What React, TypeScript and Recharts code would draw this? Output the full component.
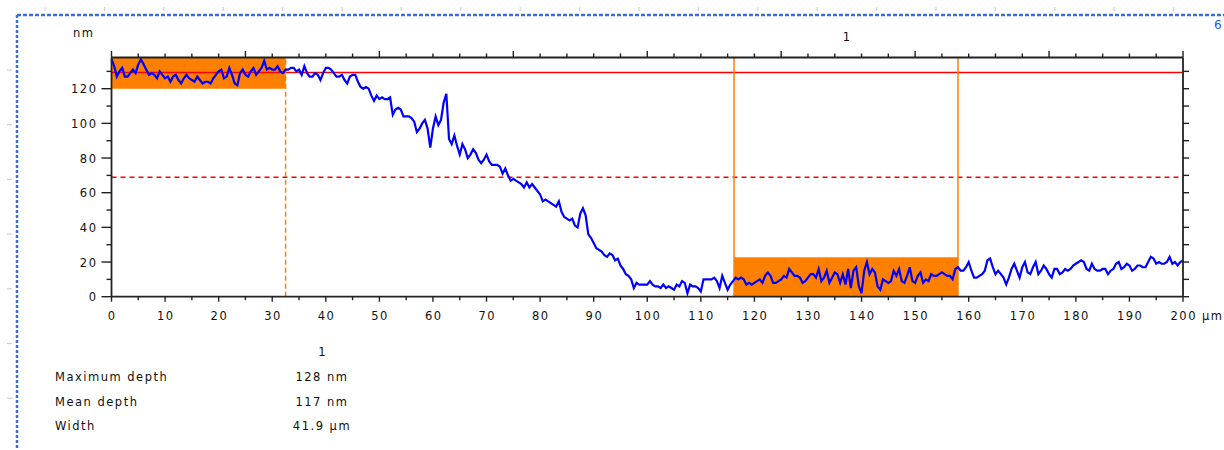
import React from "react";
import {
  LineChart,
  Line,
  XAxis,
  YAxis,
  ReferenceArea,
  ReferenceLine,
} from "recharts";

// profile sampled every 0.5 µm from 0 to 200 µm (depth in nm)
const STEP_UM = 0.5;
const depthNm: number[] = [
  137, 133, 127, 130, 132, 127, 127, 129, 131, 129,
  134, 137, 134, 131, 128, 129, 128, 126, 130, 128,
  126, 127, 124, 127, 128, 125, 123, 126, 128, 126,
  125, 124, 127, 125, 123, 124, 124, 123, 126, 128,
  130, 131, 126, 127, 132, 128, 123, 122, 129, 131,
  128, 127, 130, 132, 128, 130, 132, 136, 131, 132,
  131, 131, 133, 130, 129, 131, 131, 132, 132, 130,
  131, 128, 133, 129, 127, 127, 129, 128, 125, 129,
  132, 132, 131, 129, 127, 127, 128, 125, 123, 127,
  128, 128, 124, 121, 120, 121, 120, 116, 113, 116,
  114, 115, 114, 114, 115, 105, 108, 109, 108, 104,
  104, 104, 103, 101, 95, 97, 100, 102, 97, 86,
  97, 104, 99, 102, 112, 117, 91, 88, 93, 87,
  82, 88, 85, 80, 82, 85, 83, 79, 77, 79,
  82, 78, 76, 76, 76, 75, 71, 74, 70, 67,
  68, 67, 66, 65, 63, 66, 63, 65, 63, 61,
  59, 55, 56, 55, 54, 53, 52, 55, 49, 46,
  45, 44, 45, 41, 40, 48, 51, 47, 36, 34,
  31, 28, 27, 26, 24, 23, 25, 24, 21, 22,
  18, 16, 13, 12, 10, 5, 8, 7, 7, 7,
  7, 9, 7, 6, 6, 5, 7, 5, 6, 5,
  4, 7, 6, 9, 8, 2, 7, 6, 6, 5,
  3, 10, 10, 10, 10, 11, 9, 5, 12, 8,
  4, 7, 9, 11, 10, 11, 10, 7, 8, 7,
  8, 9, 10, 8, 12, 14, 12, 8, 8, 9,
  10, 12, 11, 16, 14, 12, 12, 11, 8, 9,
  11, 13, 13, 11, 16, 9, 11, 15, 8, 11,
  14, 13, 8, 13, 7, 16, 5, 15, 17, 6,
  2, 15, 20, 13, 16, 14, 6, 4, 10, 9,
  8, 9, 15, 12, 16, 9, 8, 12, 17, 9,
  8, 12, 14, 8, 10, 9, 13, 12, 12, 13,
  14, 13, 12, 12, 10, 16, 17, 15, 15, 17,
  20, 15, 11, 11, 12, 13, 15, 21, 22, 17,
  13, 15, 13, 11, 7, 11, 16, 19, 15, 11,
  17, 20, 14, 13, 17, 20, 13, 15, 18, 16,
  13, 11, 16, 16, 13, 14, 16, 15, 16, 18,
  19, 20, 21, 20, 16, 15, 19, 16, 15, 15,
  16, 16, 13, 15, 16, 19, 20, 16, 17, 19,
  18, 15, 16, 18, 18, 17, 17, 20, 23, 22,
  19, 20, 19, 19, 20, 23, 19, 20, 18, 20,
  21,
];

const xTicks = [
  0, 5, 10, 15, 20, 25, 30, 35, 40, 45, 50, 55, 60, 65, 70, 75, 80, 85, 90, 95,
  100, 105, 110, 115, 120, 125, 130, 135, 140, 145, 150, 155, 160, 165, 170,
  175, 180, 185, 190, 195, 200,
];
const yTicks = [0, 10, 20, 30, 40, 50, 60, 70, 80, 90, 100, 110, 120, 130];

// cursor / region settings
const leftRegion = { x1: 0, x2: 32.5, y1: 120, y2: 138 };
const rightRegion = { x1: 116.2, x2: 158, y1: 0, y2: 22.7 };
const refLevel = 129.3;
const halfLevel = 68.9;
const cursorX = 32.5;
const cursorA = 116.2;
const cursorB = 158;

const tableRows = [
  { label: "Maximum depth", value: "128 nm" },
  { label: "Mean depth", value: "117 nm" },
  { label: "Width", value: "41.9 µm" },
];

const FONT = '"DejaVu Sans", Verdana, sans-serif';
const FS = 11.5;
const LS = 1.5;
const TEXT = "#111";
const AXIS = "#222";
const ORANGE = "#ff8000";

const profile = depthNm.map((d, i) => ({ x: i * STEP_UM, depth: d }));

const BottomTick = (props: any) => {
  const { x, y, payload } = props;
  const major = payload.value % 10 === 0;
  return (
    <g>
      <line x1={x} x2={x} y1={y} y2={y + (major ? 5 : 3.5)} stroke={AXIS} strokeWidth={1.4} />
      {major && (
        <text x={x + LS / 2} y={y + 23} textAnchor="middle" fontSize={FS} letterSpacing={LS} fill={TEXT} fontFamily={FONT}>
          {payload.value}
        </text>
      )}
      {payload.value === 200 && (
        <text x={x + 19} y={y + 23} fontSize={FS} letterSpacing={LS} fill={TEXT} fontFamily={FONT}>
          µm
        </text>
      )}
    </g>
  );
};

const TopTick = (props: any) => {
  const { x, y, payload } = props;
  const major = payload.value % 25 === 0;
  return <line x1={x} x2={x} y1={y} y2={y - (major ? 6.5 : 4)} stroke={AXIS} strokeWidth={1.4} />;
};

const LeftTick = (props: any) => {
  const { x, y, payload } = props;
  const major = payload.value % 20 === 0;
  return (
    <g>
      <line x1={x - (major ? 10 : 5)} x2={x} y1={y} y2={y} stroke={AXIS} strokeWidth={1.4} />
      {major && (
        <text x={x - 14} y={y + 4.5} textAnchor="end" fontSize={FS} letterSpacing={LS} fill={TEXT} fontFamily={FONT}>
          {payload.value}
        </text>
      )}
    </g>
  );
};

const RightTick = (props: any) => {
  const { x, y } = props;
  return <line x1={x} x2={x + 6} y1={y} y2={y} stroke={AXIS} strokeWidth={1.4} />;
};

const Frame = () => {
  const topMarks: number[] = [];
  for (let px = 45; px < 1224; px += 59.4) topMarks.push(px);
  const leftMarks: number[] = [];
  for (let py = 70; py < 450; py += 54.7) leftMarks.push(py);
  return (
    <svg width={1224} height={450} style={{ position: "absolute", left: 0, top: 0 }}>
      {topMarks.map((px) => (
        <line key={"t" + px} x1={px} x2={px} y1={7} y2={11} stroke="#cfcfcf" strokeWidth={1.2} />
      ))}
      {leftMarks.map((py) => (
        <line key={"l" + py} x1={7} x2={12} y1={py} y2={py} stroke="#cfcfcf" strokeWidth={1.2} />
      ))}
      <line x1={17} x2={1224} y1={15} y2={15} stroke="#3b6fd6" strokeWidth={2.5} strokeDasharray="4 2" />
      <line x1={17} x2={17} y1={15} y2={450} stroke="#3b6fd6" strokeWidth={2.5} strokeDasharray="3 2" />
      <text x={1214} y={29} fontSize={12} fill="#2a4bff" fontFamily={FONT}>6</text>
      <text x={73} y={37} fontSize={FS} letterSpacing={LS} fill={TEXT} fontFamily={FONT}>nm</text>
      <text x={846.5} y={41} textAnchor="middle" fontSize={FS} fill={TEXT} fontFamily={FONT}>1</text>
      <text x={322} y={356} textAnchor="middle" fontSize={FS} fill={TEXT} fontFamily={FONT}>1</text>
      {tableRows.map((r, i) => (
        <g key={r.label}>
          <text x={55} y={381 + i * 24.5} fontSize={FS} letterSpacing={LS} fill={TEXT} fontFamily={FONT}>
            {r.label}
          </text>
          <text x={322} y={381 + i * 24.5} textAnchor="middle" fontSize={FS} letterSpacing={LS} fill={TEXT} fontFamily={FONT}>
            {r.value}
          </text>
        </g>
      ))}
    </svg>
  );
};

export default function App() {
  return (
    <div
      style={{
        position: "absolute",
        left: 0,
        top: 0,
        width: 1224,
        height: 450,
        background: "#fff",
        overflow: "hidden",
      }}
    >
      <Frame />
      <div style={{ position: "absolute", left: 0, top: 0 }}>
        <LineChart
          width={1224}
          height={340}
          data={profile}
          margin={{ top: 37.5, right: 0, bottom: 13.3, left: 0 }}
        >
          <XAxis
            xAxisId="bottom"
            dataKey="x"
            type="number"
            domain={[0, 200]}
            ticks={xTicks}
            interval={0}
            allowDataOverflow
            height={30}
            tickSize={0}
            tickMargin={0}
            tickLine={false}
            axisLine={{ stroke: AXIS, strokeWidth: 1.8 }}
            tick={BottomTick}
          />
          <XAxis
            xAxisId="top"
            orientation="top"
            dataKey="x"
            type="number"
            domain={[0, 200]}
            ticks={xTicks}
            interval={0}
            allowDataOverflow
            height={20}
            tickSize={0}
            tickMargin={0}
            tickLine={false}
            axisLine={{ stroke: AXIS, strokeWidth: 1.8 }}
            tick={TopTick}
          />
          <YAxis
            yAxisId="left"
            type="number"
            domain={[0, 138]}
            ticks={yTicks}
            interval={0}
            allowDataOverflow
            width={111.5}
            tickSize={0}
            tickMargin={0}
            tickLine={false}
            axisLine={{ stroke: AXIS, strokeWidth: 1.8 }}
            tick={LeftTick}
          />
          <YAxis
            yAxisId="right"
            orientation="right"
            type="number"
            domain={[0, 138]}
            ticks={yTicks}
            interval={0}
            allowDataOverflow
            width={41}
            tickSize={0}
            tickMargin={0}
            tickLine={false}
            axisLine={{ stroke: AXIS, strokeWidth: 1.8 }}
            tick={RightTick}
          />
          <ReferenceArea
            xAxisId="bottom"
            yAxisId="left"
            {...leftRegion}
            fill={ORANGE}
            fillOpacity={1}
            stroke="none"
          />
          <ReferenceArea
            xAxisId="bottom"
            yAxisId="left"
            {...rightRegion}
            fill={ORANGE}
            fillOpacity={1}
            stroke="none"
          />
          <ReferenceLine xAxisId="bottom" yAxisId="left" y={refLevel} stroke="#ff0000" strokeWidth={1.5} />
          <ReferenceLine
            xAxisId="bottom"
            yAxisId="left"
            y={halfLevel}
            stroke="#ff0000"
            strokeWidth={1.3}
            strokeDasharray="5 4"
          />
          <ReferenceLine
            xAxisId="bottom"
            yAxisId="left"
            x={cursorX}
            stroke={ORANGE}
            strokeWidth={1.5}
            strokeDasharray="5 3"
          />
          <ReferenceLine xAxisId="bottom" yAxisId="left" x={cursorA} stroke={ORANGE} strokeWidth={1.5} />
          <ReferenceLine xAxisId="bottom" yAxisId="left" x={cursorB} stroke={ORANGE} strokeWidth={1.5} />
          <Line
            xAxisId="bottom"
            yAxisId="left"
            type="linear"
            dataKey="depth"
            stroke="#0000ff"
            strokeWidth={2.2}
            dot={false}
            isAnimationActive={false}
          />
        </LineChart>
      </div>
    </div>
  );
}
